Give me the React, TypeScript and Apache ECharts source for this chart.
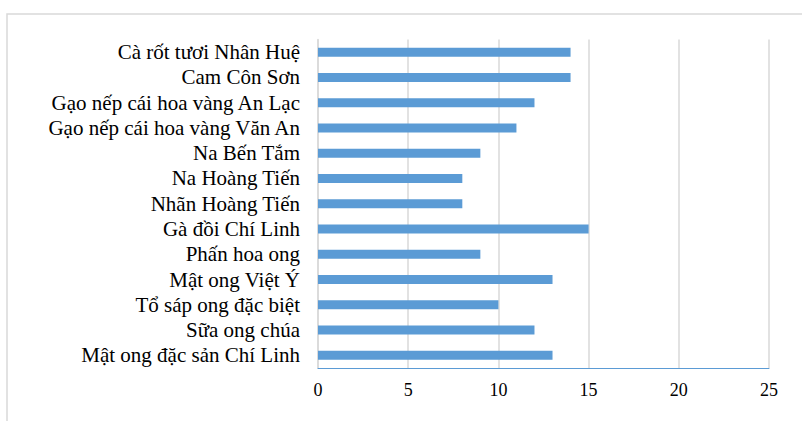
import React, { useEffect, useRef } from "react";
import * as echarts from "echarts";

const categories = [
  "Cà rốt tươi Nhân Huệ",
  "Cam Côn Sơn",
  "Gạo nếp cái hoa vàng An Lạc",
  "Gạo nếp cái hoa vàng Văn An",
  "Na Bến Tắm",
  "Na Hoàng Tiến",
  "Nhãn Hoàng Tiến",
  "Gà đồi Chí Linh",
  "Phấn hoa ong",
  "Mật ong Việt Ý",
  "Tổ sáp ong đặc biệt",
  "Sữa ong chúa",
  "Mật ong đặc sản Chí Linh",
];
const values = [14, 14, 12, 11, 9, 8, 8, 15, 9, 13, 10, 12, 13];
const xMin = 0;
const xMax = 25;
const xInterval = 5;

export default function App() {
  const ref = useRef<HTMLDivElement>(null);
  useEffect(() => {
    if (!ref.current) return;
    const chart = echarts.init(ref.current, undefined, { renderer: "svg" });
    const font = "'Liberation Serif', 'Times New Roman', serif";
    chart.setOption({
      animation: false,
      backgroundColor: "#ffffff",
      graphic: [
        {
          type: "rect",
          shape: { x: 7, y: 14, width: 900, height: 600 },
          style: { fill: "none", stroke: "#d9d9d9", lineWidth: 1.5 },
          silent: true,
        },
      ],
      grid: { left: 318, right: 33, top: 39.5, bottom: 53 },
      xAxis: {
        type: "value",
        min: xMin,
        max: xMax,
        interval: xInterval,
        axisLine: { show: true, lineStyle: { color: "#5b9bd5", width: 1 } },
        axisTick: { show: false },
        splitLine: { show: true, lineStyle: { color: "#d9d9d9", width: 1.5 } },
        axisLabel: { color: "#000", fontFamily: font, fontSize: 18, margin: 13 },
      },
      yAxis: {
        type: "category",
        data: categories,
        inverse: true,
        axisLine: { show: true, lineStyle: { color: "#d9d9d9", width: 1.5 } },
        axisTick: { show: false },
        axisLabel: {
          color: "#000",
          fontFamily: font,
          fontSize: 21,
          margin: 18,
          interval: 0,
        },
      },
      series: [
        {
          type: "bar",
          data: values,
          barWidth: 9,
          itemStyle: { color: "#5b9bd5" },
        },
      ],
    });
    return () => chart.dispose();
  }, []);
  return (
    <div
      ref={ref}
      style={{ position: "fixed", left: 0, top: 0, width: 802, height: 421 }}
    />
  );
}
